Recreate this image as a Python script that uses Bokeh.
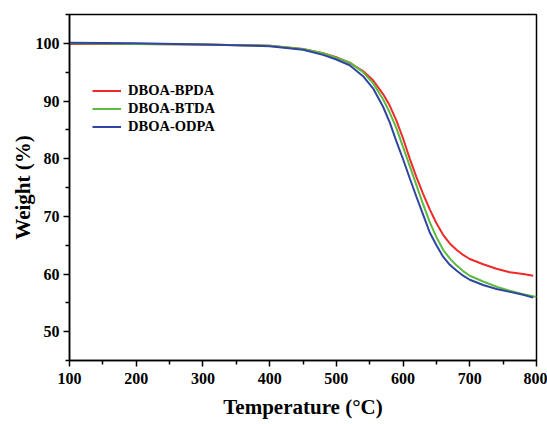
from bokeh.plotting import figure
from bokeh.models import Legend, LegendItem, Range1d, FixedTicker
from bokeh.embed import file_html
from bokeh.resources import INLINE

# Temperature (°C) sample points and weight (%) readings for each sample
t_bpda = [100, 200, 300, 400, 450, 480, 500, 520, 540, 555, 570, 580, 590, 600, 610, 620, 630, 640, 650, 660, 670, 680, 690, 700, 720, 740, 760, 780, 795]
w_bpda = [99.9, 99.9, 99.8, 99.6, 99.0, 98.3, 97.6, 96.6, 95.2, 93.6, 91.2, 89.2, 86.6, 83.5, 80.0, 76.8, 73.9, 71.2, 68.8, 66.8, 65.3, 64.2, 63.3, 62.6, 61.7, 60.9, 60.3, 60.0, 59.7]

t_btda = [100, 200, 300, 400, 450, 480, 500, 520, 540, 555, 570, 580, 590, 600, 610, 620, 630, 640, 650, 660, 670, 680, 690, 700, 720, 740, 760, 780, 800]
w_btda = [100.0, 99.9, 99.8, 99.6, 99.0, 98.3, 97.5, 96.7, 95.0, 93.1, 90.3, 88.0, 85.3, 82.0, 78.7, 75.4, 72.1, 69.0, 66.4, 64.2, 62.7, 61.5, 60.5, 59.7, 58.7, 57.8, 57.1, 56.5, 56.0]

t_odpa = [100, 200, 300, 400, 450, 480, 500, 520, 540, 555, 570, 580, 590, 600, 610, 620, 630, 640, 650, 660, 670, 680, 690, 700, 720, 740, 760, 780, 795]
w_odpa = [100.1, 100.0, 99.8, 99.5, 98.9, 98.0, 97.2, 96.2, 94.3, 92.2, 89.0, 86.3, 83.0, 79.9, 76.6, 73.4, 70.3, 67.2, 65.0, 63.0, 61.6, 60.6, 59.7, 59.0, 58.1, 57.4, 56.9, 56.4, 55.9]

labels = ["DBOA-BPDA", "DBOA-BTDA", "DBOA-ODPA"]
colors = ["#ee2a2a", "#5cbb3e", "#2f45a0"]

x_ticks = [100, 200, 300, 400, 500, 600, 700, 800]
y_ticks = [50, 60, 70, 80, 90, 100]

FONT = "Liberation Serif"

W, H = 547, 424
p = figure(width=W, height=H, output_backend="svg", toolbar_location=None,
           x_range=Range1d(100, 800), y_range=Range1d(45, 105),
           min_border_left=69, min_border_top=14, min_border_right=W - 536,
           min_border_bottom=H - 360)
p.background_fill_color = "white"
p.border_fill_color = "white"
p.grid.visible = False
p.outline_line_color = "black"
p.outline_line_width = 1.5

rs = []
for t, w, c in zip([t_bpda, t_btda, t_odpa], [w_bpda, w_btda, w_odpa], colors):
    rs.append(p.line(t, w, line_color=c, line_width=2))

for ax in (p.xaxis[0], p.yaxis[0]):
    ax.axis_line_width = 1.5
    ax.major_tick_line_width = 1.5
    ax.minor_tick_line_width = 1.5
    ax.major_tick_in = 0
    ax.major_tick_out = 6
    ax.minor_tick_in = 0
    ax.minor_tick_out = 4
    ax.major_label_text_font = FONT
    ax.major_label_text_font_style = "bold"
    ax.major_label_text_font_size = "16px"
    ax.major_label_text_color = "black"
    ax.axis_label_text_font = FONT
    ax.axis_label_text_font_style = "bold"
    ax.axis_label_text_font_size = "21px"
    ax.axis_label_text_color = "black"

p.xaxis[0].ticker = FixedTicker(ticks=x_ticks, minor_ticks=[150, 250, 350, 450, 550, 650, 750])
p.yaxis[0].ticker = FixedTicker(ticks=y_ticks, minor_ticks=[45, 55, 65, 75, 85, 95, 105])
p.xaxis[0].axis_label = "Temperature (\u00b0C)"
p.yaxis[0].axis_label = "Weight (%)"
p.xaxis[0].major_label_standoff = 6
p.yaxis[0].major_label_standoff = 4
p.xaxis[0].axis_label_standoff = 8
p.yaxis[0].axis_label_standoff = -2

legend = Legend(items=[LegendItem(label=l, renderers=[r]) for l, r in zip(labels, rs)],
                location=(23, 225))
legend.border_line_color = None
legend.background_fill_alpha = 0
legend.padding = 0
legend.margin = 0
legend.spacing = 1
legend.glyph_width = 29
legend.glyph_height = 17
legend.label_height = 17
legend.label_standoff = 7
legend.label_text_font = FONT
legend.label_text_font_style = "bold"
legend.label_text_font_size = "14.5px"
legend.label_text_color = "black"
p.add_layout(legend, "center")

open("out.html", "w").write(file_html(p, INLINE))
